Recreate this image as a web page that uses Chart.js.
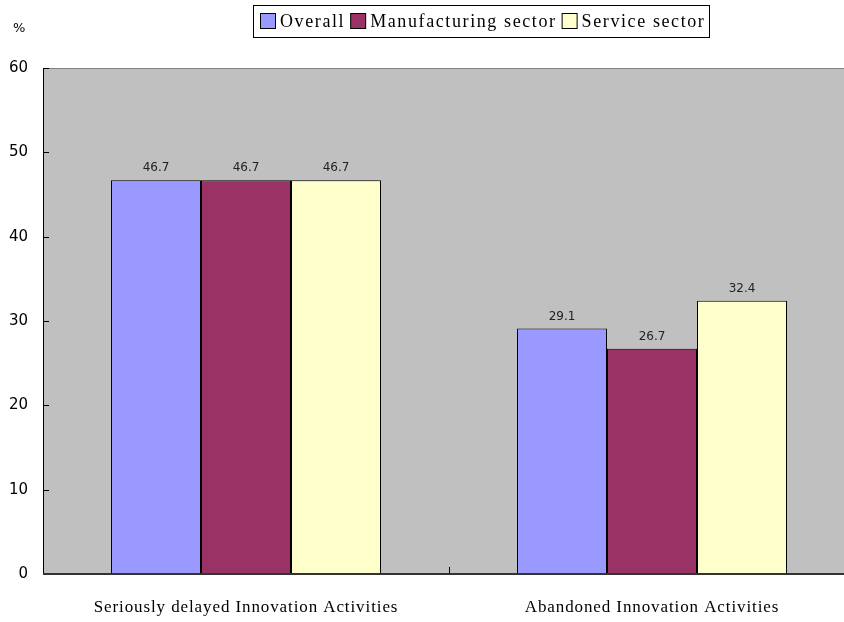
<!DOCTYPE html>
<html>
<head>
<meta charset="utf-8">
<script src="https://cdn.jsdelivr.net/npm/chart.js@4/dist/chart.umd.min.js"></script>
<style>
  html, body { margin: 0; padding: 0; background: #fff; overflow: hidden; }
  #wrap { position: relative; width: 870px; height: 622px; }
</style>
</head>
<body>
<div id="wrap"><canvas id="chart"></canvas></div>
<script>
const categories = ['Seriously delayed Innovation Activities', 'Abandoned Innovation Activities'];
const seriesNames = ['Overall', 'Manufacturing sector', 'Service sector'];
const overall = [46.7, 29.1];
const manufacturing = [46.7, 26.7];
const service = [46.7, 32.4];
const yTicks = [0, 10, 20, 30, 40, 50, 60];

const colors = ['#9999FF', '#993366', '#FFFFCC'];
const serifFont = '"Liberation Serif", serif';
const sansFont = '"DejaVu Sans", sans-serif';

// grey plot area, grey top frame, inward ticks, labels and legend
const plotFrame = {
    id: 'plotFrame',
    beforeDatasetsDraw(chart) {
        const { ctx, chartArea: a, scales } = chart;
        ctx.save();
        ctx.fillStyle = '#C0C0C0';
        ctx.fillRect(a.left, a.top, a.right - a.left, a.bottom - a.top);
        ctx.strokeStyle = '#808080';
        ctx.lineWidth = 1;
        ctx.beginPath();
        ctx.moveTo(a.left, a.top + 0.5);
        ctx.lineTo(a.right, a.top + 0.5);
        ctx.stroke();

        ctx.strokeStyle = '#000';
        ctx.beginPath();
        yTicks.forEach(v => {
            const y = Math.round(scales.y.getPixelForValue(v)) + 0.5;
            ctx.moveTo(a.left, y);
            ctx.lineTo(a.left + 6, y);
        });
        // divider tick between the two categories
        const mid = Math.round((scales.x.getPixelForValue(0) + scales.x.getPixelForValue(1)) / 2) + 0.5;
        ctx.moveTo(mid, a.bottom);
        ctx.lineTo(mid, a.bottom - 7);
        ctx.stroke();
        ctx.restore();
    },
    afterDatasetsDraw(chart) {
        const { ctx, chartArea: a, scales } = chart;
        ctx.save();
        ctx.strokeStyle = '#000';
        ctx.lineWidth = 1;
        ctx.beginPath();
        ctx.moveTo(a.left + 0.5, a.top);
        ctx.lineTo(a.left + 0.5, a.bottom);
        ctx.stroke();
        ctx.strokeStyle = '#333';
        ctx.lineWidth = 2;
        ctx.beginPath();
        ctx.moveTo(a.left, a.bottom);
        ctx.lineTo(a.right, a.bottom);
        ctx.stroke();

        // value labels above bars
        ctx.fillStyle = '#222';
        ctx.font = '12px ' + sansFont;
        ctx.textAlign = 'center';
        ctx.textBaseline = 'bottom';
        chart.data.datasets.forEach((ds, i) => {
            chart.getDatasetMeta(i).data.forEach((bar, j) => {
                ctx.fillText(ds.data[j].toFixed(1), bar.x, bar.y - 6);
            });
        });

        // category labels, spaced out
        ctx.fillStyle = '#000';
        ctx.font = '17px ' + serifFont;
        ctx.letterSpacing = '0.9px';
        ctx.textBaseline = 'middle';
        chart.data.labels.forEach((lab, i) => {
            ctx.fillText(lab, scales.x.getPixelForValue(i), 608);
        });
        ctx.restore();
    },
    afterDraw(chart) {
        const { ctx } = chart;
        ctx.save();
        // unit label
        ctx.fillStyle = '#000';
        ctx.font = '13px ' + sansFont;
        ctx.textAlign = 'left';
        ctx.textBaseline = 'middle';
        ctx.fillText('%', 13, 29);

        // legend box
        ctx.font = '18px ' + serifFont;
        ctx.letterSpacing = '1.6px';
        ctx.strokeStyle = '#000';
        ctx.lineWidth = 1;
        ctx.fillStyle = '#fff';
        ctx.fillRect(253.5, 5.5, 456, 32);
        ctx.strokeRect(253.5, 5.5, 456, 32);
        let x = 260;
        seriesNames.forEach((name, i) => {
            ctx.fillStyle = colors[i];
            ctx.fillRect(x + 0.5, 13.5, 15, 15);
            ctx.strokeRect(x + 0.5, 13.5, 15, 15);
            ctx.fillStyle = '#000';
            ctx.textBaseline = 'middle';
            ctx.fillText(name, x + 20, 22);
            x += 20 + ctx.measureText(name).width + 5;
        });
        ctx.restore();
    }
};

new Chart(document.getElementById('chart'), {
    type: 'bar',
    data: {
        labels: categories,
        datasets: [
            { label: seriesNames[0], data: overall, backgroundColor: colors[0] },
            { label: seriesNames[1], data: manufacturing, backgroundColor: colors[1] },
            { label: seriesNames[2], data: service, backgroundColor: colors[2] }
        ].map(ds => Object.assign(ds, {
            borderColor: '#000',
            borderWidth: 1,
            categoryPercentage: 0.665,
            barPercentage: 1
        }))
    },
    options: {
        responsive: true,
        maintainAspectRatio: false,
        animation: false,
        layout: { padding: { top: 68, right: 15, left: 0, bottom: 0 } },
        plugins: {
            legend: { display: false },
            tooltip: { enabled: false }
        },
        scales: {
            x: {
                grid: { display: false },
                border: { display: false },
                ticks: { display: false },
                afterFit(scale) { scale.height = 48; }
            },
            y: {
                min: 0,
                max: 60,
                grid: { display: false },
                border: { display: false },
                afterBuildTicks(scale) { scale.ticks = yTicks.map(v => ({ value: v })); },
                ticks: {
                    color: '#000',
                    font: { family: sansFont, size: 15 },
                    padding: 7
                },
                afterFit(scale) { scale.width = 43; }
            }
        }
    },
    plugins: [plotFrame]
});
</script>
</body>
</html>
